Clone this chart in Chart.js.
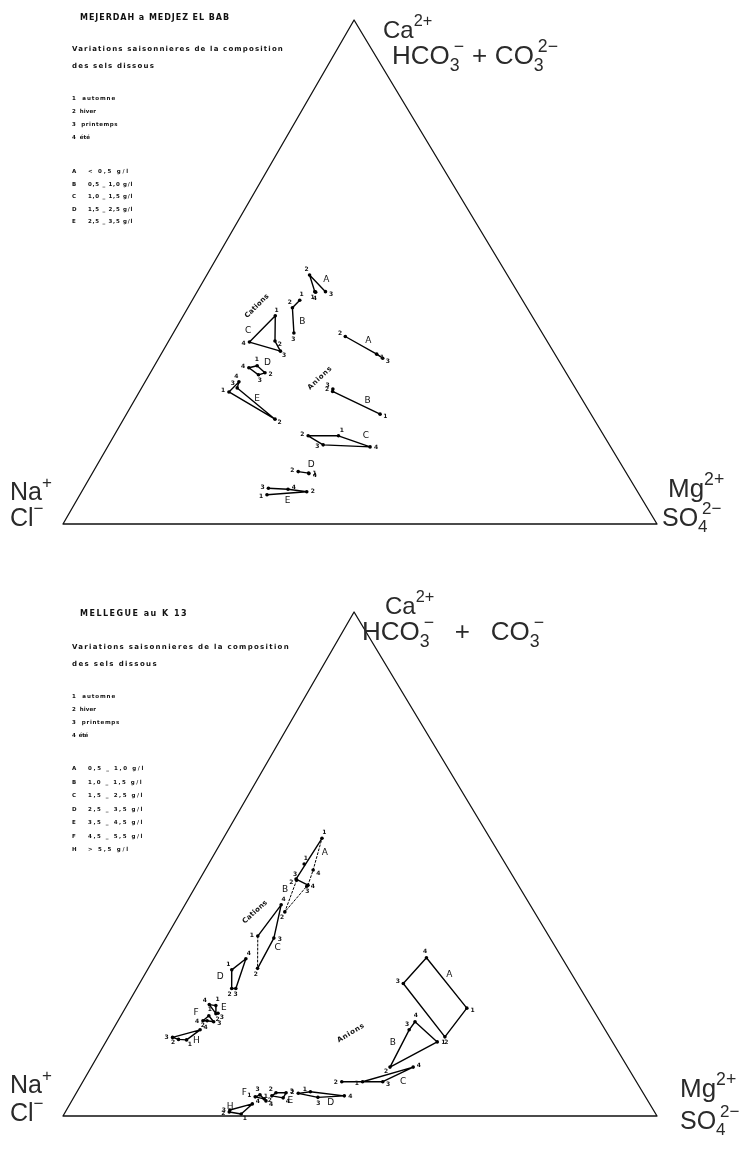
<!DOCTYPE html>
<html>
<head>
<meta charset="utf-8">
<script src="https://cdn.jsdelivr.net/npm/chart.js@4.4.0/dist/chart.umd.min.js"></script>
<style>
html, body { margin: 0; padding: 0; background: #fff; }
canvas { display: block; }
</style>
</head>
<body>
<canvas id="top" width="747" height="575"></canvas>
<canvas id="bottom" width="747" height="576"></canvas>
<script>
// ternary values: [Ca2+ (or HCO3+CO3) %, Mg2+ (or SO4) %], the rest is Na+ (or Cl-)
// one entry per season 1..4, null when the point is not drawn
var AX = 49; // apex position along the base (%)

// Mejerdah a Medjez el Bab
var mjCatA = [[46.1, 19.8], [49.4, 17.3], [46.1, 21.6], [46.0, 20.0]];
var mjCatB = [[44.4, 18.1], [42.9, 17.6], [37.9, 20.3], null];
var mjCatC = [[41.3, 15.5], [36.3, 17.9], [34.3, 19.8], [36.1, 13.7]];
var mjCatD = [[31.4, 17.3], [30.0, 19.3], [29.6, 18.4], [31.0, 16.1]];
var mjCatE = [[26.2, 15.1], [20.8, 25.5], [27.0, 16.1], [28.2, 15.8]];
var mjAniA = [[33.7, 36.3], [37.2, 29.3], [32.9, 37.7], null];
var mjAniB = [[21.8, 42.7], [26.3, 32.5], [26.8, 32.3], null];
var mjAniC = [[17.5, 37.8], [17.5, 32.7], [15.7, 36.1], [15.3, 44.2]];
var mjAniD = [[10.1, 36.4], [10.4, 34.5], null, [10.0, 36.5]];
var mjAniE = [[5.8, 31.5], [6.4, 37.9], [7.1, 31.1], [6.9, 34.5]];

// Mellegue au K 13
var mlCatA = [[55.1, 16.6], [47.0, 16.2], [45.8, 18.8], [48.8, 18.2]];
var mlCatB = [[50.0, 16.1], [40.5, 17.5], [46.8, 16.4], [45.6, 18.7]];
var mlCatC = [[35.7, 15.3], [29.3, 18.4], [35.3, 18.2], [41.9, 16.2]];
var mlCatD = [[29.0, 14.2], [25.3, 16.0], [25.3, 16.7], [31.2, 15.5]];
var mlCatE = [[21.9, 15.0], [20.3, 15.8], [20.4, 16.1], [22.1, 13.8]];
var mlCatF = [[19.9, 14.8], [18.9, 15.0], [18.7, 16.2], [18.9, 14.3]];
var mlCatH = [[15.1, 13.4], [15.2, 12.0], [15.6, 10.8], [17.1, 14.7]];
var mlAniA = [[21.4, 57.5], [15.7, 56.6], [26.3, 44.4], [31.4, 45.8]];
var mlAniB = [[14.7, 55.8], [9.7, 50.3], [17.1, 49.9], [18.7, 50.1]];
var mlAniC = [[6.8, 47.1], [6.8, 43.6], [6.8, 50.5], [9.7, 54.2]];
var mlAniD = [[4.8, 39.3], [4.5, 37.4], [3.7, 41.1], [4.0, 45.4]];
var mlAniE = [[4.0, 33.2], [4.6, 33.6], [4.6, 35.3], [3.6, 35.3]];
var mlAniF = [[3.8, 30.5], [3.4, 32.2], [4.2, 31.1], [3.0, 32.7]];
var mlAniH = [[0.4, 29.8], [0.8, 27.6], [1.2, 27.5], [2.4, 30.7]];

var seasons = ["1  automne", "2  hiver", "3  printemps", "4  été"];
var mjClasses = ["A", "B", "C", "D", "E"];
var mjRanges = ["< 0,5 g/l", "0,5 _ 1,0 g/l", "1,0 _ 1,5 g/l", "1,5 _ 2,5 g/l", "2,5 _ 3,5 g/l"];
var mlClasses = ["A", "B", "C", "D", "E", "F", "H"];
var mlRanges = ["0,5 _ 1,0 g/l", "1,0 _ 1,5 g/l", "1,5 _ 2,5 g/l", "2,5 _ 3,5 g/l", "3,5 _ 4,5 g/l", "4,5 _ 5,5 g/l", "> 5,5 g/l"];

// how each group is joined (season order), and where its letter sits (px from centre)
var mjGroups = [
  { v: mjCatA, name: "A", lines: [[1, 2, 3]], off: [10, -8] },
  { v: mjCatB, name: "B", lines: [[1, 2, 3]], off: [7, 8] },
  { v: mjCatC, name: "C", lines: [[1, 2, 3, 4, 1]], off: [-22, -7] },
  { v: mjCatD, name: "D", lines: [[1, 2, 3, 4, 1]], off: [10, -8] },
  { v: mjCatE, name: "E", lines: [[1, 4, 3, 2, 1]], off: [12, 3] },
  { v: mjAniA, name: "A", lines: [[2, 1, 3]], off: [0, -9] },
  { v: mjAniB, name: "B", lines: [[3, 2, 1]], off: [19, 2] },
  { v: mjAniC, name: "C", lines: [[2, 1, 4, 3, 2]], off: [31, -5] },
  { v: mjAniD, name: "D", lines: [[2, 1]], off: [6, -8] },
  { v: mjAniE, name: "E", lines: [[3, 4, 2, 1]], off: [5, 10] }
];
var mlGroups = [
  { v: mlCatA, name: "A", lines: [[1, 2, 3]], dash: [[3, 4, 1]], off: [15, -16] },
  { v: mlCatB, name: "B", lines: [], dash: [[3, 2, 4]], off: [-13, 4] },
  { v: mlCatC, name: "C", lines: [[2, 3, 4, 1]], dash: [[1, 2]], off: [10, 11] },
  { v: mlCatD, name: "D", lines: [[4, 1, 2, 3, 4]], off: [-16, 0] },
  { v: mlCatE, name: "E", lines: [[4, 1, 2, 4]], off: [9, -2] },
  { v: mlCatF, name: "F", lines: [[1, 4, 2, 3, 1]], off: [-12, -7] },
  { v: mlCatH, name: "H", lines: [[3, 4, 1, 2, 3]], off: [12, 4] },
  { v: mlAniA, name: "A", lines: [[4, 1, 2, 3, 4]], off: [14, -22] },
  { v: mlAniB, name: "B", lines: [[2, 3, 4, 1, 2]], off: [-20, 3] },
  { v: mlAniC, name: "C", lines: [[2, 1, 4, 3, 1]], off: [28, 4] },
  { v: mlAniD, name: "D", lines: [[2, 1, 4, 3, 2]], off: [13, 8] },
  { v: mlAniE, name: "E", lines: [[2, 3, 4, 1, 2]], off: [11, 6] },
  { v: mlAniF, name: "F", lines: [[1, 3, 4, 2, 1]], off: [-17, -5] },
  { v: mlAniH, name: "H", lines: [[3, 4, 1, 2, 3]], off: [-8, -3] }
];

function toXY(v) {
  return { x: v[1] + v[0] * AX / 100, y: v[0] };
}

function buildDatasets(groups) {
  var ds = [{
    data: [{ x: 0, y: 0 }, { x: 100, y: 0 }, { x: AX, y: 100 }, { x: 0, y: 0 }],
    showLine: true, borderColor: "#111", borderWidth: 1.3, pointRadius: 0, clip: false
  }];
  groups.forEach(function (g) {
    var addLine = function (seq, dashed) {
      ds.push({
        data: seq.map(function (s) { return toXY(g.v[s - 1]); }),
        showLine: true, borderColor: "#000", borderWidth: dashed ? 1 : 1.4,
        borderDash: dashed ? [2, 2] : [], pointRadius: 0, clip: false
      });
    };
    (g.lines || []).forEach(function (s) { addLine(s, false); });
    (g.dash || []).forEach(function (s) { addLine(s, true); });
    var pts = [];
    g.v.forEach(function (v) { if (v) pts.push(toXY(v)); });
    ds.push({ data: pts, showLine: false, pointRadius: 1.8, pointBackgroundColor: "#000", pointBorderWidth: 0, clip: false });
  });
  return ds;
}

function fitText(ctx, text, x, y, w) {
  ctx.letterSpacing = "0px";
  var m = ctx.measureText(text).width;
  var ls = (w - m) / text.length;
  if (ls < -0.5) ls = -0.5;
  ctx.letterSpacing = ls + "px";
  ctx.fillText(text, x, y);
  ctx.letterSpacing = "0px";
}

// parts: {t} plain text, {sub, sup} stacked indices, {t, flex} stretched to reach width w
function rich(ctx, x, y, parts, size, w) {
  var small = size * 0.68, big = size + 'px "Liberation Sans"', sm = small + 'px "Liberation Sans"';
  var widths = parts.map(function (p) {
    if (p.t !== undefined) { ctx.font = big; return ctx.measureText(p.t).width; }
    ctx.font = sm;
    return Math.max(p.sub ? ctx.measureText(p.sub).width : 0, p.sup ? ctx.measureText(p.sup).width + (p.sub ? 4 : 0) : 0);
  });
  var total = widths.reduce(function (a, b) { return a + b; }, 0);
  var flexCount = parts.filter(function (p) { return p.flex; }).length;
  var extra = w && flexCount ? (w - total) / flexCount : 0;
  parts.forEach(function (p, i) {
    if (p.t !== undefined) {
      ctx.font = big;
      var pad = p.flex ? extra / 2 : 0;
      ctx.fillText(p.t, x + pad, y);
      x += widths[i] + (p.flex ? extra : 0);
    } else {
      ctx.font = sm;
      if (p.sub) ctx.fillText(p.sub, x, y + size * 0.25);
      if (p.sup) ctx.fillText(p.sup, x + (p.sub ? 4 : 0), y - size * 0.48);
      x += widths[i];
    }
  });
}

function textPlugin(cfg) {
  return {
    id: "texts",
    afterDatasetsDraw: function (chart) {
      var ctx = chart.ctx, xs = chart.scales.x, ys = chart.scales.y;
      ctx.save();
      ctx.fillStyle = "#111";
      cfg.groups.forEach(function (g) {
        var pts = [], cx = 0, cy = 0;
        g.v.forEach(function (v, i) {
          if (!v) return;
          var p = toXY(v);
          var q = { x: xs.getPixelForValue(p.x), y: ys.getPixelForValue(p.y), n: i + 1 };
          pts.push(q); cx += q.x; cy += q.y;
        });
        cx /= pts.length; cy /= pts.length;
        ctx.font = 'bold 6px "DejaVu Sans"';
        ctx.textAlign = "center";
        ctx.textBaseline = "middle";
        pts.forEach(function (p) {
          var dx = p.x - cx, dy = p.y - cy, d = Math.sqrt(dx * dx + dy * dy);
          if (d < 1) { dx = -1; dy = -1; d = 1.414; }
          ctx.fillText(String(p.n), p.x + dx / d * 6, p.y + dy / d * 6);
        });
        ctx.font = '9px "DejaVu Sans"';
        ctx.fillText(g.name, cx + g.off[0], cy + g.off[1]);
      });

      ctx.textAlign = "left";
      ctx.textBaseline = "middle";
      cfg.rotated.forEach(function (r) {
        ctx.save();
        ctx.translate(r[1], r[2]);
        ctx.rotate(r[3] * Math.PI / 180);
        ctx.font = 'bold 7px "DejaVu Sans"';
        ctx.textAlign = "center";
        fitText(ctx, r[0], 0, 0, 31);
        ctx.restore();
      });

      cfg.heads.forEach(function (h) {
        ctx.font = "bold " + h[4] + 'px "DejaVu Sans"';
        fitText(ctx, h[0], h[1], h[2], h[3]);
      });
      ctx.font = 'bold 5.5px "DejaVu Sans"';
      seasons.forEach(function (s, i) {
        fitText(ctx, s, 72, cfg.seasonY + i * cfg.seasonStep, cfg.seasonW[i]);
      });
      cfg.classes.forEach(function (c, i) {
        var y = cfg.classY + i * cfg.classStep;
        ctx.fillText(c, 72, y);
        fitText(ctx, cfg.ranges[i], 88, y, cfg.rangeW[i]);
      });

      ctx.textBaseline = "alphabetic";
      ctx.fillStyle = "#2a2a2a";
      cfg.corners.forEach(function (c) { rich(ctx, c[0], c[1], c[2], c[3], c[4]); });
      ctx.restore();
    }
  };
}

function makeChart(id, groups, padTop, padBottom, cfg) {
  cfg.groups = groups;
  return new Chart(document.getElementById(id), {
    type: "scatter",
    data: { datasets: buildDatasets(groups) },
    options: {
      responsive: false,
      animation: false,
      devicePixelRatio: 1,
      layout: { padding: { left: 63, right: 90, top: padTop, bottom: padBottom } },
      scales: {
        x: { type: "linear", min: 0, max: 100, display: false },
        y: { type: "linear", min: 0, max: 100, display: false }
      },
      elements: { line: { tension: 0, borderCapStyle: "round", borderJoinStyle: "round" } },
      plugins: { legend: { display: false }, tooltip: { enabled: false } }
    },
    plugins: [textPlugin(cfg)]
  });
}

var MINUS = "\u2212";

makeChart("top", mjGroups, 20, 51, {
  heads: [
    ["MEJERDAH a MEDJEZ EL BAB", 80, 18, 150, 8],
    ["Variations saisonnieres de la composition", 72, 49, 212, 7],
    ["des sels dissous", 72, 66, 83, 7]
  ],
  seasonY: 99, seasonStep: 12.8, seasonW: [44, 24, 46, 18],
  classes: mjClasses, ranges: mjRanges, classY: 172, classStep: 12.5,
  rangeW: [42, 45, 45, 45, 45],
  rotated: [["Cations", 257, 306, -45], ["Anions", 320, 378, -43]],
  corners: [
    [383, 38, [{ t: "Ca" }, { sup: "2+" }], 24],
    [392, 64, [{ t: "HCO" }, { sub: "3", sup: MINUS }, { t: "+", flex: true }, { t: "CO" }, { sub: "3", sup: "2" + MINUS }], 26, 166],
    [10, 500, [{ t: "Na" }, { sup: "+" }], 25],
    [10, 526, [{ t: "Cl" }, { sup: MINUS }], 25],
    [668, 497, [{ t: "Mg" }, { sup: "2+" }], 26],
    [662, 526, [{ t: "SO" }, { sub: "4", sup: "2" + MINUS }], 25]
  ]
});

makeChart("bottom", mlGroups, 37, 35, {
  heads: [
    ["MELLEGUE au K 13", 80, 39, 108, 8],
    ["Variations saisonnieres de la composition", 72, 72, 218, 7],
    ["des sels dissous", 72, 89, 86, 7]
  ],
  seasonY: 122, seasonStep: 13, seasonW: [44, 24, 48, 16],
  classes: mlClasses, ranges: mlRanges, classY: 194, classStep: 13.5,
  rangeW: [57, 55, 56, 56, 56, 56, 42],
  rotated: [["Cations", 255, 337, -42], ["Anions", 351, 458, -31]],
  corners: [
    [385, 39, [{ t: "Ca" }, { sup: "2+" }], 24],
    [362, 65, [{ t: "HCO" }, { sub: "3", sup: MINUS }, { t: "+", flex: true }, { t: "CO" }, { sub: "3", sup: MINUS }], 26, 182],
    [10, 518, [{ t: "Na" }, { sup: "+" }], 25],
    [10, 546, [{ t: "Cl" }, { sup: MINUS }], 25],
    [680, 522, [{ t: "Mg" }, { sup: "2+" }], 26],
    [680, 554, [{ t: "SO" }, { sub: "4", sup: "2" + MINUS }], 25]
  ]
});
</script>
</body>
</html>
